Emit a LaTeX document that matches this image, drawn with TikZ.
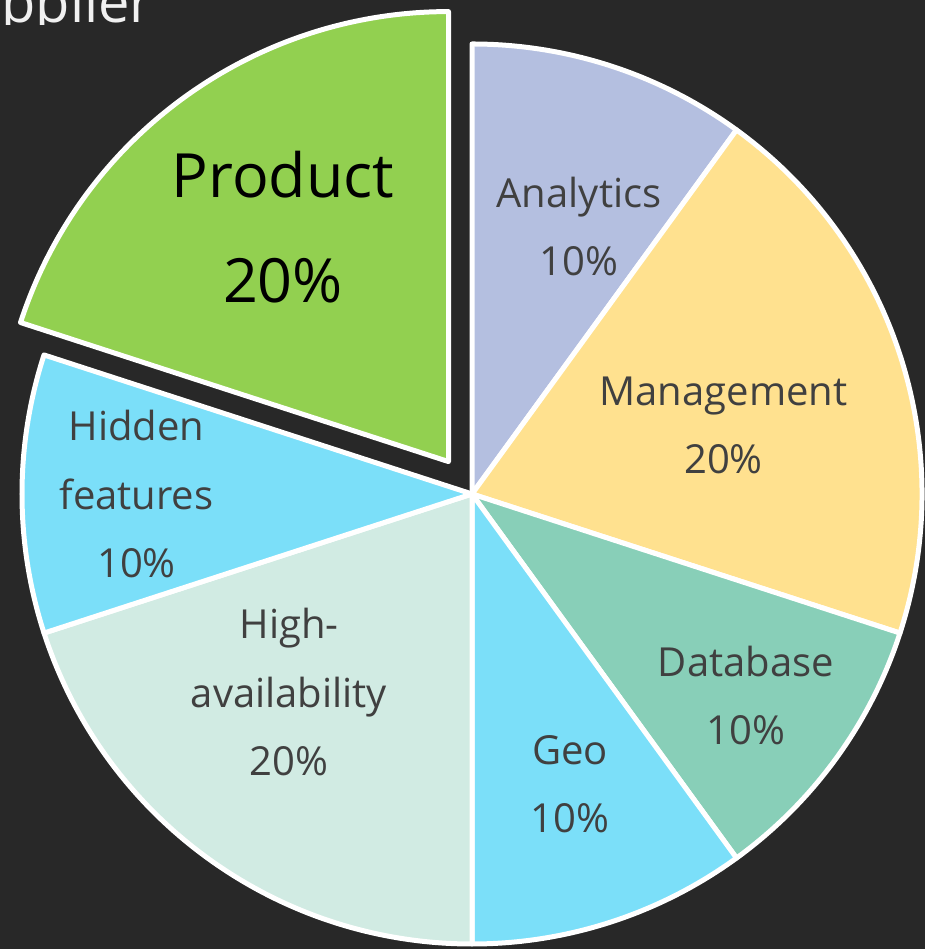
\documentclass[tikz,border=0pt]{standalone}
\usepackage{fontspec}
\setmainfont{Open Sans}
\definecolor{bg}{RGB}{40,40,40}
\definecolor{cana}{HTML}{B4BFE0}
\definecolor{cman}{HTML}{FFE18F}
\definecolor{cdb}{HTML}{88CFB8}
\definecolor{cgeo}{HTML}{7BDFF9}
\definecolor{cha}{HTML}{D1EBE3}
\definecolor{chid}{HTML}{7BDFF9}
\definecolor{cprod}{HTML}{92D050}
\definecolor{lblgray}{HTML}{404040}
\definecolor{titlecol}{HTML}{F0F0F0}
\begin{document}
\begin{tikzpicture}[x=1pt,y=1pt,
  slice/.style={draw=white, line width=5pt, line join=round},
  lbl/.style={font=\fontsize{40}{68.5}\selectfont, text=lblgray, align=center, inner sep=0pt, anchor=base},
  biglbl/.style={font=\fontsize{61}{105}\selectfont, text=black, align=center, inner sep=0pt, anchor=base},
  titletext/.style={font=\fontsize{56}{68}\selectfont, text=titlecol, inner sep=0pt, anchor=base east}]
\fill[bg] (0,0) rectangle (925,949);
\useasboundingbox (0,0) rectangle (925,949);
\begin{scope}
\clip (0,924) rectangle (925,949);
\node[titletext] (title) at (153,926) {Supplier};
\end{scope}
\coordinate (C) at (472,455);
\coordinate (P) at (448.5,487.4);
% slices
\filldraw[slice, fill=cana] (C) -- ++(90:450pt) arc[start angle=90, end angle=54, radius=450pt] -- cycle;
\filldraw[slice, fill=cman] (C) -- ++(54:450pt) arc[start angle=54, end angle=-18, radius=450pt] -- cycle;
\filldraw[slice, fill=cdb] (C) -- ++(-18:450pt) arc[start angle=-18, end angle=-54, radius=450pt] -- cycle;
\filldraw[slice, fill=cgeo] (C) -- ++(-54:450pt) arc[start angle=-54, end angle=-90, radius=450pt] -- cycle;
\filldraw[slice, fill=cha] (C) -- ++(-90:450pt) arc[start angle=-90, end angle=-162, radius=450pt] -- cycle;
\filldraw[slice, fill=chid] (C) -- ++(-162:450pt) arc[start angle=-162, end angle=-198, radius=450pt] -- cycle;
\filldraw[slice, fill=cprod] (P) -- ++(162:450pt) arc[start angle=162, end angle=90, radius=450pt] -- cycle;
% labels (anchor = baseline of last line)
\node[biglbl] (lprod) at (283,646) {Product\\20\%};
\node[lbl] (lana) at (579,673) {Analytics\\10\%};
\node[lbl] (lman) at (723.5,475) {Management\\20\%};
\node[lbl] (ldb) at (746,204) {Database\\10\%};
\node[lbl] (lgeo) at (570,116) {Geo\\10\%};
\node[lbl] (lha) at (289,173) {High-\\availability\\20\%};
\node[lbl] (lhid) at (136.5,371) {Hidden\\features\\10\%};
\end{tikzpicture}
\end{document}
